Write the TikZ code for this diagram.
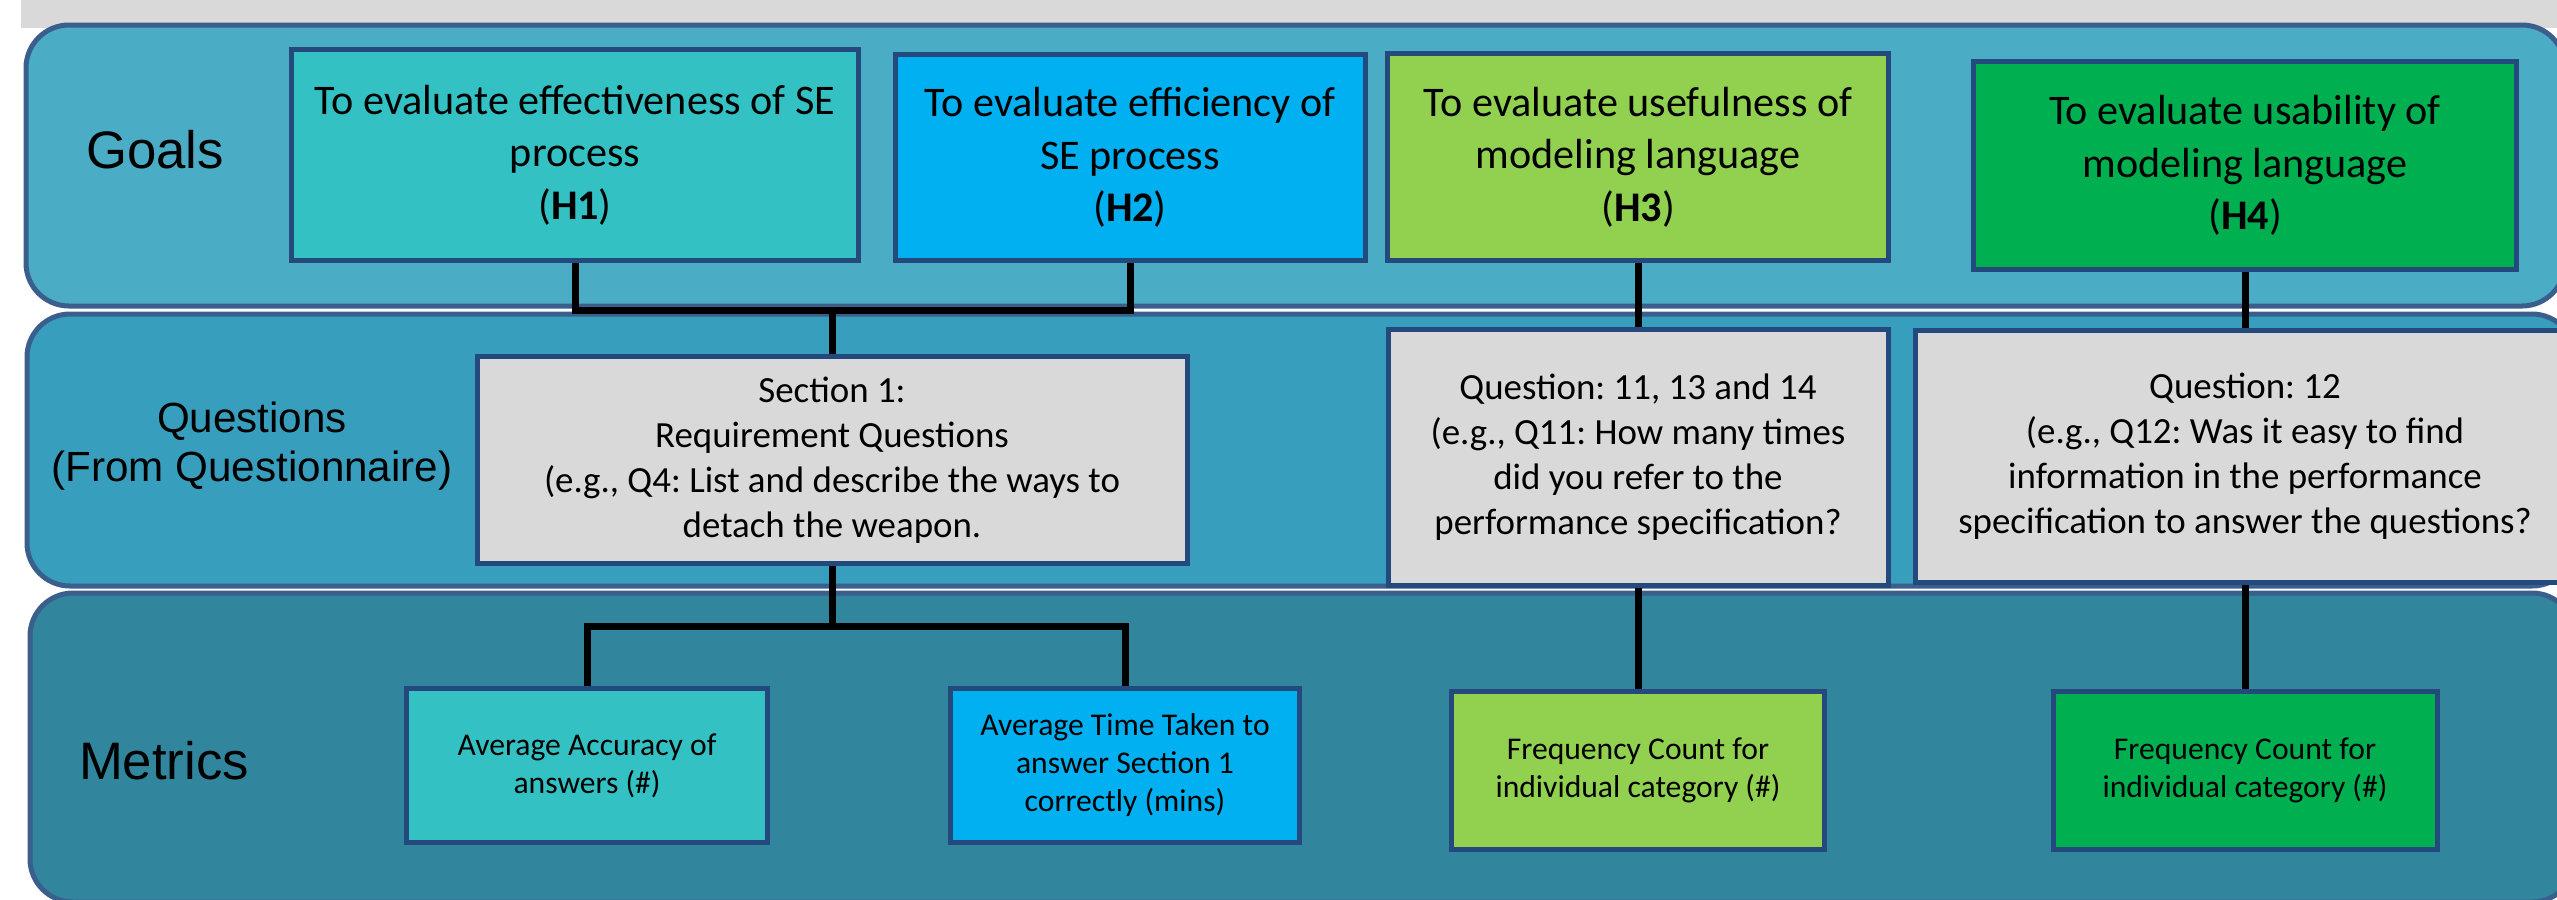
\documentclass[tikz,border=0pt]{standalone}
\usepackage{fontspec}
\setmainfont{Carlito}
\newfontfamily\arialf{Liberation Sans}
\definecolor{bandA}{HTML}{4BACC6}
\definecolor{bandB}{HTML}{389EBD}
\definecolor{bandC}{HTML}{31859C}
\definecolor{bandline}{HTML}{3A5F8C}
\definecolor{boxline}{HTML}{24497C}
\definecolor{turq}{HTML}{33C1C4}
\definecolor{sky}{HTML}{00B0F0}
\definecolor{lime}{HTML}{92D050}
\definecolor{grn}{HTML}{00B050}
\definecolor{lgray}{HTML}{D9D9D9}
\frenchspacing
\begin{document}
\frenchspacing
\begin{tikzpicture}[x=0.1mm,y=-0.1mm,
  band/.style={draw=bandline, line width=0.5mm, rounded corners=4.3mm},
  box/.style={draw=boxline, line width=0.5mm, align=center, inner sep=0pt, text=black},
  goalfont/.style={font=\frenchspacing\fontsize{12}{15}\selectfont},
  qfont/.style={font=\frenchspacing\fontsize{10.5}{12.8}\selectfont},
  mfont/.style={font=\frenchspacing\fontsize{9}{10.8}\selectfont},
  biglabel/.style={font=\arialf\fontsize{15}{18}\selectfont, align=center},
  midlabel/.style={font=\arialf\fontsize{12}{14}\selectfont, align=center},
  conn/.style={draw=black, line width=0.7mm}]
\useasboundingbox (0,0) rectangle (2557,899);
\clip (0,0) rectangle (2557,899);
% background strip and bands
\fill[lgray] (21,0) rectangle (2557,28);
\draw[band, fill=bandA] (26,25) rectangle (2565,306);
\draw[band, fill=bandB] (27,314) rectangle (2575,586);
\draw[band, fill=bandC] (30,593) rectangle (2575,902);
% band labels
\node[biglabel] (lgoals) at (155,150) {Goals};
\node[midlabel] (lquest) at (252,446) {Questions\\(From Questionnaire)};
\node[biglabel] (lmetr) at (164,761) {Metrics};
% goals
\node[box, goalfont, fill=turq, minimum width=56.7mm, minimum height=21.1mm] (h1) at (575,155)
  {To evaluate effectiveness of SE\\process\\(\textbf{H1})};
\node[box, goalfont, fill=sky, minimum width=47.0mm, minimum height=20.6mm] (h2) at (1130,157.5)
  {To evaluate efficiency of\\SE process\\(\textbf{H2})};
\node[box, goalfont, fill=lime, minimum width=50.1mm, minimum height=20.7mm] (h3) at (1638,157)
  {To evaluate usefulness of\\modeling language\\(\textbf{H3})};
\node[box, goalfont, fill=grn, minimum width=54.3mm, minimum height=20.8mm] (h4) at (2245,165.5)
  {To evaluate usability of\\modeling language\\(\textbf{H4})};
% questions
\node[box, qfont, fill=lgray, minimum width=71.0mm, minimum height=20.7mm] (q1) at (832,460)
  {Section 1:\\Requirement Questions\\(e.g., Q4: List and describe the ways to\\detach the weapon.};
\node[box, qfont, fill=lgray, minimum width=50.0mm, minimum height=25.6mm] (q2) at (1638,457.5)
  {Question: 11, 13 and 14\\(e.g., Q11: How many times\\did you refer to the\\performance specification?};
\node[box, qfont, fill=lgray, minimum width=65.9mm, minimum height=25.2mm] (q3) at (2245,456.5)
  {Question: 12\\(e.g., Q12: Was it easy to find\\information in the performance\\specification to answer the questions?};
% metrics
\node[box, mfont, fill=turq, minimum width=36.1mm, minimum height=15.4mm] (m1) at (587,765.5)
  {Average Accuracy of\\answers (\#)};
\node[box, mfont, fill=sky, minimum width=34.9mm, minimum height=15.4mm] (m2) at (1125,765.5)
  {Average Time Taken to\\answer Section 1\\correctly (mins)};
\node[box, mfont, fill=lime, minimum width=37.3mm, minimum height=15.8mm] (m3) at (1638,770.5)
  {Frequency Count for\\individual category (\#)};
\node[box, mfont, fill=grn, minimum width=38.4mm, minimum height=15.8mm] (m4) at (2245,770.5)
  {Frequency Count for\\individual category (\#)};
% connectors
\coordinate (gj) at (832,310);
\coordinate (mj) at (832,626);
\draw[conn] (h1.south) |- (gj) -| (h2.south);
\draw[conn] (gj) -- (q1.north);
\draw[conn] (q1.south) -- (mj);
\draw[conn] (m1.north) |- (mj) -| (m2.north);
\draw[conn] (h3.south) -- (q2.north);
\draw[conn] (q2.south) -- (m3.north);
\draw[conn] (h4.south) -- (q3.north);
\draw[conn] (q3.south) -- (m4.north);
\end{tikzpicture}
\end{document}
